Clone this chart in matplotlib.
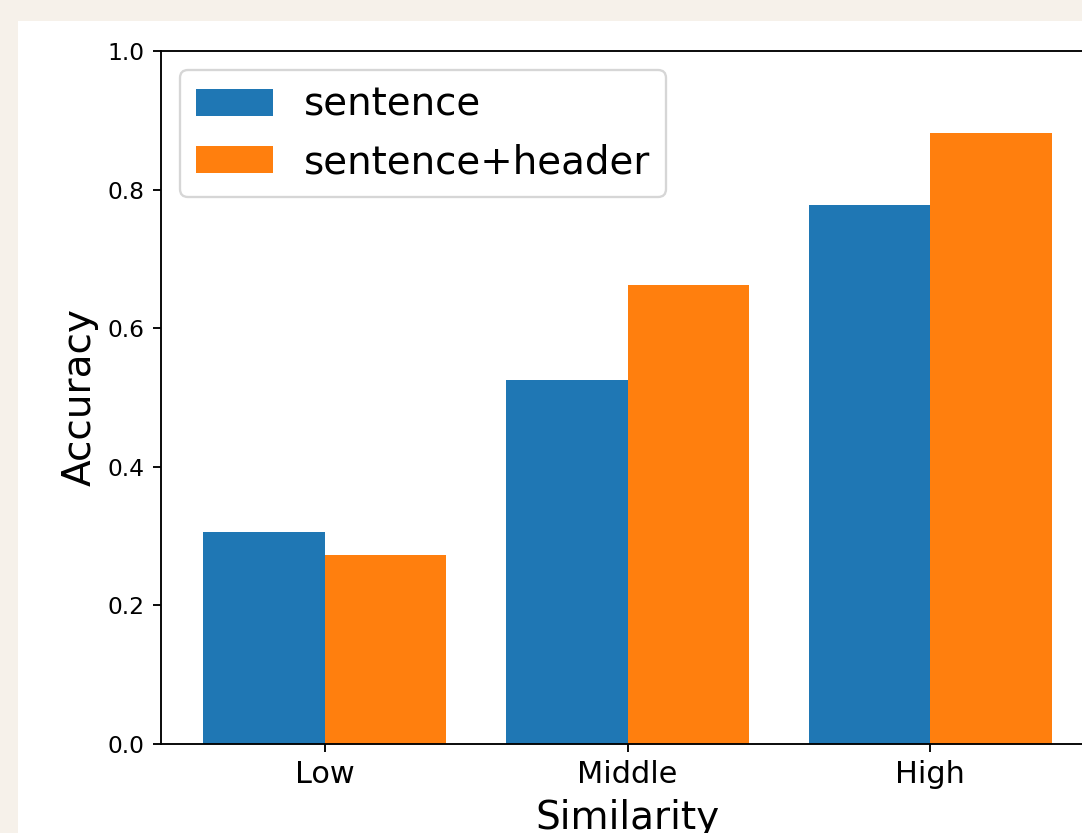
import matplotlib
matplotlib.use("Agg")
import matplotlib.pyplot as plt
import numpy as np
from matplotlib.patches import Rectangle

categories = ["Low", "Middle", "High"]
sentence = [0.306, 0.525, 0.778]
sentence_header = [0.273, 0.662, 0.882]

W, H, DPI = 1082, 833, 168
fig = plt.figure(figsize=(W / DPI, H / DPI), dpi=DPI, facecolor="#f6f1ea")
# white figure area of the screenshot
fig.patches.append(Rectangle((18 / W, 0), 1, 1 - 21 / H, transform=fig.transFigure,
                             facecolor="white", edgecolor="none", zorder=-10))

ax = fig.add_axes([161 / W, 89 / H, (1094 - 161) / W, (744 - 51) / H])
x = np.arange(len(categories))
width = 0.4
ax.bar(x - width / 2, sentence, width, label="sentence", color="#1f77b4")
ax.bar(x + width / 2, sentence_header, width, label="sentence+header", color="#ff7f0e")

ax.set_xticks(x)
ax.set_xticklabels(categories, fontsize=13)
ax.set_ylim(0, 1.0)
ax.set_xlabel("Similarity", fontsize=16.7)
ax.set_ylabel("Accuracy", fontsize=16.7)
ax.legend(loc="upper left", fontsize=16.6)

fig.savefig("out.png", dpi=DPI, facecolor=fig.get_facecolor())
